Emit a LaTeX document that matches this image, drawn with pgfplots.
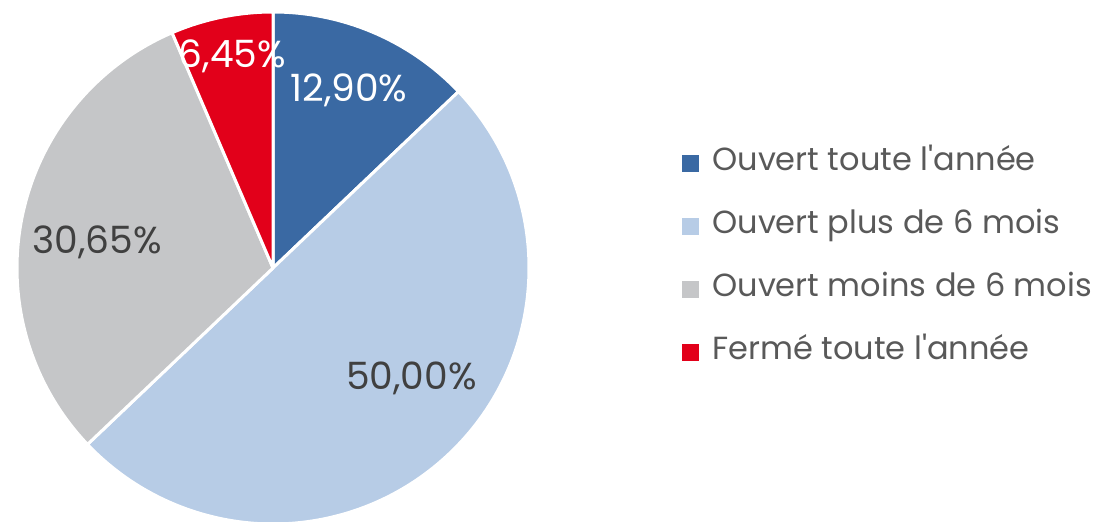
\documentclass[border=0pt]{standalone}
\usepackage{pgfplots}
\pgfplotsset{compat=1.18}
\usepackage{pgfplotstable}
\usepackage{fontspec}
\setmainfont{Poppins}[Ligatures=TeXOff]
\definecolor{c1}{HTML}{3A69A3}
\definecolor{c2}{HTML}{B7CCE6}
\definecolor{c3}{HTML}{C5C6C8}
\definecolor{c4}{HTML}{E2001A}
\definecolor{lbl}{HTML}{404040}
\definecolor{leg}{HTML}{595959}
% slice values (%)
\pgfplotstableread{
val
12.90
50.00
30.65
6.45
}\piedata
\begin{document}
\begin{tikzpicture}
\begin{axis}[
  width=548pt, height=261pt, scale only axis,
  xmin=0, xmax=1096, ymin=0, ymax=522, y dir=reverse,
  axis lines=none, clip=true,
  legend style={at={(axis cs:682,150)}, anchor=north west, draw=none, fill=none,
    font=\fontsize{16}{18}\selectfont\color{leg}, row sep=18.5pt, inner sep=0pt,
    nodes={inner sep=0pt, text height=10pt, text depth=3pt},
    column sep=6.5pt},
  legend cell align=left,
  legend image code/.code={\fill[#1] (0pt,-4.25pt) rectangle (8.5pt,4.25pt);},
]
\addlegendimage{fill=c1, draw=none}
\addlegendentry{Ouvert toute l'année}
\addlegendimage{fill=c2, draw=none}
\addlegendentry{Ouvert plus de 6 mois}
\addlegendimage{fill=c3, draw=none}
\addlegendentry{Ouvert moins de 6 mois}
\addlegendimage{fill=c4, draw=none}
\addlegendentry{Fermé toute l'année}
\pgfplotstablegetelem{0}{val}\of\piedata \let\va\pgfplotsretval
\pgfplotstablegetelem{1}{val}\of\piedata \let\vb\pgfplotsretval
\pgfplotstablegetelem{2}{val}\of\piedata \let\vc\pgfplotsretval
\pgfplotstablegetelem{3}{val}\of\piedata \let\vd\pgfplotsretval
\pgfmathsetmacro{\aA}{90}
\pgfmathsetmacro{\aB}{\aA-3.6*\va}
\pgfmathsetmacro{\aC}{\aB-3.6*\vb}
\pgfmathsetmacro{\aD}{\aC-3.6*\vc}
\pgfmathsetmacro{\aE}{\aD-3.6*\vd}
\filldraw[fill=c1, draw=white, line width=1.5pt, line join=round] (axis cs:273,268) -- ++(\aA:128pt) arc[start angle=\aA, end angle=\aB, radius=128pt] -- cycle;
\filldraw[fill=c2, draw=white, line width=1.5pt, line join=round] (axis cs:273,268) -- ++(\aB:128pt) arc[start angle=\aB, end angle=\aC, radius=128pt] -- cycle;
\filldraw[fill=c3, draw=white, line width=1.5pt, line join=round] (axis cs:273,268) -- ++(\aC:128pt) arc[start angle=\aC, end angle=\aD, radius=128pt] -- cycle;
\filldraw[fill=c4, draw=white, line width=1.5pt, line join=round] (axis cs:273,268) -- ++(\aD:128pt) arc[start angle=\aD, end angle=\aE, radius=128pt] -- cycle;
\node[anchor=base, white, inner sep=0pt, font=\fontsize{18.8}{22}\selectfont] at (axis cs:349,101.5) {12,90\%};
\node[anchor=base, lbl, inner sep=0pt, font=\fontsize{18.8}{22}\selectfont] at (axis cs:411.5,390) {50,00\%};
\node[anchor=base, lbl, inner sep=0pt, font=\fontsize{18.8}{22}\selectfont] at (axis cs:97,254) {30,65\%};
\node[anchor=base, white, inner sep=0pt, font=\fontsize{18.8}{22}\selectfont] at (axis cs:232.5,68) {6,45\%};
\end{axis}
\pgfresetboundingbox
\path[use as bounding box] (current axis.south west) rectangle (current axis.north east);
\end{tikzpicture}
\end{document}
